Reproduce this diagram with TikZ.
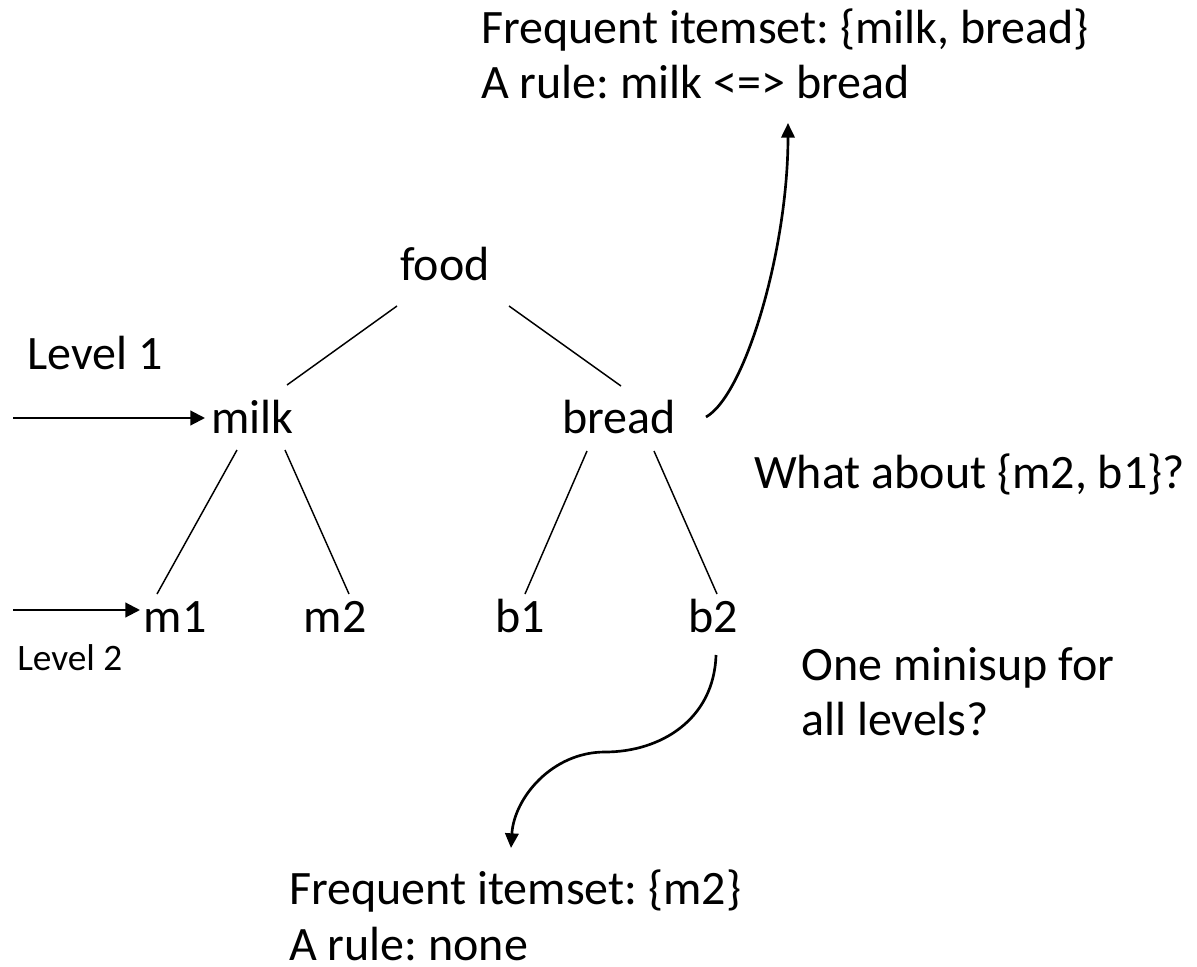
\documentclass[tikz,border=0pt]{standalone}
\usepackage{fontspec}
\setmainfont{Carlito}
\usetikzlibrary{arrows.meta}
\frenchspacing

\tikzset{
  txt/.style={inner sep=0pt, font=\fontsize{36}{44}\selectfont},
  smalltxt/.style={inner sep=0pt, font=\fontsize{28}{34}\selectfont},
  branch/.style={line width=1.1pt},
  pointer/.style={line width=1.6pt, -{Triangle[length=11pt,width=11pt]}},
  curvearrow/.style={line width=2pt, -{Triangle[length=11pt,width=10pt]}}
}

\begin{document}
\begin{tikzpicture}[x=0.75pt,y=-0.75pt]
  \path[use as bounding box] (0,0) rectangle (1197,967);

  % item hierarchy
  \node[txt, anchor=base] (food)  at (445,280)   {food};
  \node[txt, anchor=base] (milk)  at (252.5,433) {milk};
  \node[txt, anchor=base] (bread) at (619,433)   {bread};
  \node[txt, anchor=base] (m1)    at (175,632)   {m1};
  \node[txt, anchor=base] (m2)    at (335,632)   {m2};
  \node[txt, anchor=base] (b1)    at (520.5,632) {b1};
  \node[txt, anchor=base] (b2)    at (713.5,632) {b2};

  % level labels
  \node[txt, anchor=base west]      (lvone) at (27,369)  {Level 1};
  \node[smalltxt, anchor=base west] (lvtwo) at (17,670)  {Level 2};

  % side notes
  \node[txt, anchor=base west] (top1) at (481,43)  {Frequent itemset: \{milk, bread\}};
  \node[txt, anchor=base west] (top2) at (481,98)  {A rule: milk <=> bread};
  \node[txt, anchor=base west] (what) at (754,488) {What about \{m2, b1\}?};
  \node[txt, anchor=base west] (one1) at (801,680) {One minisup for};
  \node[txt, anchor=base west] (one2) at (801,735) {all levels?};
  \node[txt, anchor=base west] (bot1) at (289,904) {Frequent itemset: \{m2\}};
  \node[txt, anchor=base west, text depth=0pt] (bot2) at (289,960) {A rule: none};

  % tree edges
  \draw[branch] ([shift={(-48,26)}]food.base)  -- ([shift={(34.5,-48)}]milk.base);
  \draw[branch] ([shift={(64,26)}]food.base)   -- ([shift={(2,-47)}]bread.base);
  \draw[branch] ([shift={(-15.5,17)}]milk.base) -- ([shift={(-18,-38)}]m1.base);
  \draw[branch] ([shift={(32.5,17)}]milk.base) -- ([shift={(14,-38)}]m2.base);
  \draw[branch] ([shift={(-32,18)}]bread.base) -- ([shift={(4.5,-38)}]b1.base);
  \draw[branch] ([shift={(35,18)}]bread.base)  -- ([shift={(3.5,-38)}]b2.base);

  % level pointers
  \coordinate (lvonestart) at (13,418);
  \coordinate (lvtwostart) at (13,610);
  \draw[pointer] (lvonestart) -- ([shift={(-47.5,-15)}]milk.base);
  \draw[pointer] (lvtwostart) -- ([shift={(-35,-22)}]m1.base);

  % curved arrows to the notes
  \draw[curvearrow] ([shift={(87,-16)}]bread.base)
      .. controls (745,395) and (788,250) .. ([shift={(307,25)}]top2.base west);
  \draw[curvearrow] ([shift={(2.5,23)}]b2.base)
      .. controls (714,720) and (660,752) .. (605,752)
      .. controls (552,752) and (514,798) .. ([shift={(222,-56)}]bot1.base west);
\end{tikzpicture}
\end{document}
